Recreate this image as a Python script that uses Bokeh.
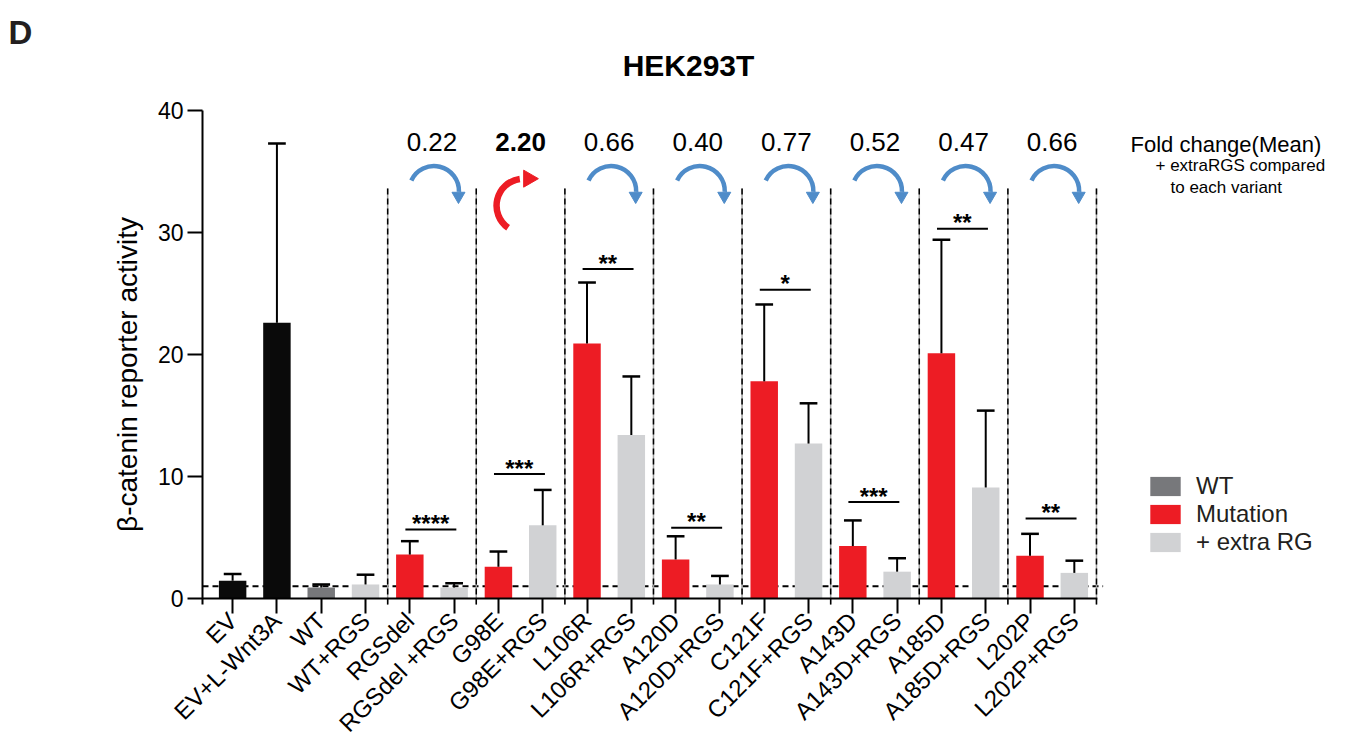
import math
from bokeh.plotting import figure
from bokeh.models import Range1d, FixedTicker, Label, Legend, LegendItem
from bokeh.core.properties import value
from bokeh.embed import file_html
from bokeh.resources import INLINE

# ---------------- data ----------------
categories = ["EV", "EV+L-Wnt3A", "WT", "WT+RGS", "RGSdel", "RGSdel +RGS",
              "G98E", "G98E+RGS", "L106R", "L106R+RGS", "A120D", "A120D+RGS",
              "C121F", "C121F+RGS", "A143D", "A143D+RGS", "A185D", "A185D+RGS",
              "L202P", "L202P+RGS"]
means = [1.45, 22.6, 0.9, 1.15, 3.6, 0.9, 2.6, 6.0, 20.9, 13.4,
         3.2, 1.15, 17.8, 12.7, 4.3, 2.2, 20.1, 9.1, 3.5, 2.1]
errors = [0.55, 14.7, 0.25, 0.8, 1.1, 0.35, 1.25, 2.9, 5.0, 4.8,
          1.9, 0.7, 6.3, 3.3, 2.1, 1.1, 9.3, 6.3, 1.8, 1.0]
groups = ["ctrl", "ctrl", "wt", "rgs", "mut", "rgs", "mut", "rgs", "mut", "rgs",
          "mut", "rgs", "mut", "rgs", "mut", "rgs", "mut", "rgs", "mut", "rgs"]
pair_starts = [4, 6, 8, 10, 12, 14, 16, 18]
fold_changes = ["0.22", "2.20", "0.66", "0.40", "0.77", "0.52", "0.47", "0.66"]
fold_increase = [False, True, False, False, False, False, False, False]
sig_marks = ["****", "***", "**", "**", "*", "***", "**", "**"]
sig_heights = [5.65, 10.2, 27.0, 5.8, 25.3, 7.9, 30.3, 6.55]
y_ticks = [0, 10, 20, 30, 40]
legend_labels = {"wt": "WT", "mut": "Mutation", "rgs": "+ extra RG"}

# ---------------- style / geometry ----------------
FONT = "Liberation Sans"
COLORS = {"ctrl": "#0a0a0a", "wt": "#77787b", "mut": "#ed1c24", "rgs": "#d1d2d4"}
BLUE = "#4f8cc9"
RED = "#ed1c24"

W, H = 1345, 748
XPU, YPU = 44.3, 12.2          # pixels per data unit
AXIS_X_PX, ZERO_Y_PX = 202, 598  # where the y axis and the zero line sit
AX_X = -0.68                   # data x of the y axis
AX_Y = -0.5                    # data y of the tick baseline
X0 = AX_X - AXIS_X_PX / XPU
X1 = X0 + W / XPU
Y1 = ZERO_Y_PX / YPU
Y0 = Y1 - H / YPU

p = figure(width=W, height=H, x_range=Range1d(X0, X1), y_range=Range1d(Y0, Y1),
           output_backend="svg", toolbar_location=None,
           min_border_left=0, min_border_right=0, min_border_top=0,
           min_border_bottom=0)
p.title_location = None
p.grid.visible = False
p.outline_line_color = None
p.background_fill_color = "white"
p.border_fill_color = "white"

# y axis
ya = p.yaxis[0]
ya.fixed_location = AX_X
ya.ticker = FixedTicker(ticks=y_ticks)
ya.major_tick_out = 15
ya.major_tick_in = 0
ya.minor_tick_out = 0
ya.minor_tick_in = 0
ya.axis_line_color = None
ya.major_tick_line_width = 2
ya.major_tick_line_color = "black"
ya.major_label_text_font = FONT
ya.major_label_text_font_size = "23px"
ya.major_label_text_color = "black"
ya.major_label_standoff = 4
ya.axis_label = "β-catenin reporter activity"
ya.axis_label_text_font = FONT
ya.axis_label_text_font_size = "28px"
ya.axis_label_text_font_style = "normal"
ya.axis_label_text_color = "black"
ya.axis_label_standoff = 12

# x axis
xa = p.xaxis[0]
xa.fixed_location = AX_Y
xa.ticker = FixedTicker(ticks=list(range(len(categories))))
xa.major_label_overrides = {i: c for i, c in enumerate(categories)}
xa.axis_line_color = None
xa.major_tick_in = 6
xa.major_tick_out = 9
xa.major_tick_line_width = 2
xa.major_tick_line_color = "black"
xa.minor_tick_in = 0
xa.minor_tick_out = 0
xa.major_label_orientation = math.pi / 4
xa.major_label_text_font = FONT
xa.major_label_text_font_size = "24px"
xa.major_label_text_color = "black"
xa.major_label_standoff = 3

n = len(categories)
xs = list(range(n))

# reference dashed line at 1
p.segment(x0=[AX_X], y0=[1], x1=[n - 0.35], y1=[1], line_color="black",
          line_width=2, line_dash="6 4")

# group separators
sep_x = [s - 0.5 for s in pair_starts] + [pair_starts[-1] + 1.5]
p.segment(x0=sep_x, y0=[AX_Y] * len(sep_x), x1=sep_x, y1=[33.6] * len(sep_x),
          line_color="#a0a0a0", line_width=1.5)
p.segment(x0=sep_x, y0=[AX_Y] * len(sep_x), x1=sep_x, y1=[33.6] * len(sep_x),
          line_color="black", line_width=1.5, line_dash="6 4")

# bars
renderers = {}
for g in ["ctrl", "wt", "mut", "rgs"]:
    idx = [i for i in xs if groups[i] == g]
    renderers[g] = p.vbar(x=idx, top=[means[i] for i in idx], bottom=0, width=0.62,
                          fill_color=COLORS[g], line_color=None)

# error bars (upper only)
uppers = [m + e for m, e in zip(means, errors)]
p.segment(x0=xs, y0=means, x1=xs, y1=uppers, line_color="black", line_width=2)
p.segment(x0=[x - 0.2 for x in xs], y0=uppers, x1=[x + 0.2 for x in xs], y1=uppers,
          line_color="black", line_width=2.5)

# axis lines
p.segment(x0=[AX_X], y0=[0], x1=[n - 0.48], y1=[0], line_color="black", line_width=2)
p.segment(x0=[AX_X], y0=[AX_Y], x1=[AX_X], y1=[max(y_ticks)],
          line_color="black", line_width=2)

# significance brackets
p.segment(x0=[m - 0.1 for m in pair_starts], y0=sig_heights,
          x1=[m + 1.05 for m in pair_starts], y1=sig_heights,
          line_color="black", line_width=2)
p.text(x=[m + 0.47 for m in pair_starts], y=sig_heights, text=sig_marks,
       text_font=value(FONT), text_font_size="24px", text_font_style="bold",
       text_align="center", text_baseline="alphabetic", text_color="black",
       y_offset=-6)

# fold-change numbers
for bold in (False, True):
    sel = [k for k in range(len(pair_starts)) if fold_increase[k] == bold]
    p.text(x=[pair_starts[k] + 0.5 for k in sel], y=[37.45] * len(sel),
           text=[fold_changes[k] for k in sel], text_font=value(FONT),
           text_font_size="26px", text_font_style="bold" if bold else "normal",
           text_align="center", text_baseline="middle", text_color="black")

# curved arrows
blue_k = [k for k in range(len(pair_starts)) if not fold_increase[k]]
red_k = [k for k in range(len(pair_starts)) if fold_increase[k]]
bcx = [pair_starts[k] + 0.5 + 2 / XPU for k in blue_k]
bcy = 33.4
p.arc(x=bcx, y=[bcy] * len(bcx), radius=25, radius_units="screen",
      start_angle=math.radians(-2), end_angle=math.radians(155),
      line_color=BLUE, line_width=4.5)
p.scatter(x=[c + 24.5 / XPU for c in bcx], y=[bcy - 5 / YPU] * len(bcx),
          marker="inverted_triangle", size=13, fill_color=BLUE, line_color=BLUE)
rcx = [pair_starts[k] + 0.5 + 3 / XPU for k in red_k]
rcy = 32.2
p.arc(x=rcx, y=[rcy] * len(rcx), radius=27, radius_units="screen",
      start_angle=math.radians(98), end_angle=math.radians(235),
      line_color=RED, line_width=6.5)
p.scatter(x=[c + 5 / XPU for c in rcx], y=[rcy + 27 / YPU] * len(rcx),
          marker="triangle", angle=-math.pi / 2, size=17, fill_color=RED,
          line_color=RED)

# legend
legend = Legend(items=[LegendItem(label=legend_labels[g], renderers=[renderers[g]])
                       for g in ["wt", "mut", "rgs"]],
                location=(1146, H - 556), orientation="vertical")
legend.border_line_color = None
legend.background_fill_alpha = 0
legend.padding = 0
legend.margin = 0
legend.spacing = 0
legend.glyph_width = 38
legend.glyph_height = 24
legend.label_height = 24
legend.label_standoff = 12
legend.label_text_font = FONT
legend.label_text_font_size = "24px"
legend.label_text_color = "#231f20"
p.add_layout(legend)

# texts (screen positions, measured from the bottom-left corner)
def note(x, baseline_y, text, size, bold=False, align="left", color="black"):
    p.add_layout(Label(x=x, y=H - baseline_y, x_units="screen", y_units="screen",
                       text=text, text_font=FONT, text_font_size=size,
                       text_font_style="bold" if bold else "normal",
                       text_baseline="alphabetic", text_align=align,
                       text_color=color))

note(8, 32, "D", "33px", bold=True, color="#231f20")
note(688, 65, "HEK293T", "30px", bold=True, align="center")
note(1130, 144, "Fold change(Mean)", "22px")
note(1155, 165, "+ extraRGS compared", "17px")
note(1170, 187, "to each variant", "17px")

open("out.html", "w").write(file_html(p, INLINE))
